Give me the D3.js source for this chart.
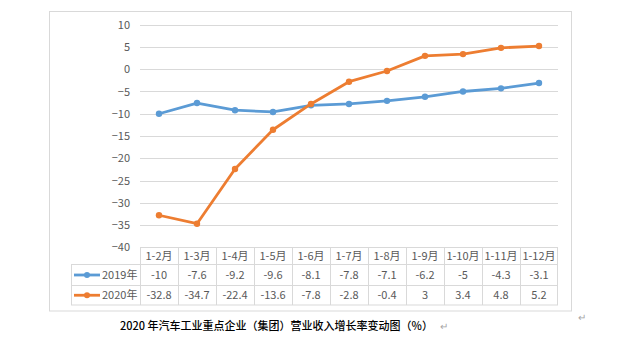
<!DOCTYPE html>
<html><head><meta charset="utf-8">
<script src="https://cdn.jsdelivr.net/npm/d3@7"></script>
<style>body{margin:0;background:#fff}svg{display:block}</style>
</head><body>
<svg id="c" width="640" height="346"></svg>
<script>
const categories = ["1-2月","1-3月","1-4月","1-5月","1-6月","1-7月","1-8月","1-9月","1-10月","1-11月","1-12月"];
const series2019 = [-10,-7.6,-9.2,-9.6,-8.1,-7.8,-7.1,-6.2,-5,-4.3,-3.1];
const series2020 = [-32.8,-34.7,-22.4,-13.6,-7.8,-2.8,-0.4,3,3.4,4.8,5.2];
const seriesNames = ["2019年","2020年"];
const yTicks = [10,5,0,-5,-10,-15,-20,-25,-30,-35,-40];
const title = "2020 年汽车工业重点企业（集团）营业收入增长率变动图（%）";

const colors = ["#5B9BD5","#ED7D31"];
const font = "'Noto Sans CJK SC','Microsoft YaHei',sans-serif";
const svg = d3.select("#c");

svg.append("rect").attr("x",49.5).attr("y",11.5).attr("width",522).attr("height",299.5)
  .attr("fill","none").attr("stroke","#d9d9d9").attr("stroke-width",1);

const x = d3.scaleBand().domain(categories).range([140,558]);
const y = d3.scaleLinear().domain([-40,10]).range([247.3,24.7]);

svg.append("g").selectAll("line").data(yTicks).join("line")
  .attr("x1",140).attr("x2",558)
  .attr("y1",d=>Math.round(y(d))+0.5).attr("y2",d=>Math.round(y(d))+0.5)
  .attr("stroke","#d9d9d9").attr("stroke-width",1);

const yAxis = d3.axisLeft(y).tickValues(yTicks).tickSize(0).tickPadding(10).tickFormat(d3.format("d"));
const ya = svg.append("g").attr("transform","translate(140,0)").call(yAxis);
ya.select(".domain").remove();
ya.selectAll("text").attr("fill","#595959").style("font-family",font).style("font-size","11px");

const data = [series2019, series2020];
const line = d3.line().x((d,i)=>x(categories[i])+x.bandwidth()/2).y(d=>y(d));
data.forEach((s,k)=>{
  svg.append("path").datum(s).attr("d",line).attr("fill","none")
    .attr("stroke",colors[k]).attr("stroke-width",2.8).attr("stroke-linejoin","round");
  svg.append("g").selectAll("circle").data(s).join("circle")
    .attr("cx",(d,i)=>x(categories[i])+x.bandwidth()/2).attr("cy",d=>y(d)).attr("r",3.2)
    .attr("fill",colors[k]);
});

const rowTop = [247.5,264.5,285.5,305];
const legLeft = 71;
const g = svg.append("g");
const bc = "#d9d9d9";
g.append("line").attr("x1",140).attr("x2",558).attr("y1",rowTop[0]).attr("y2",rowTop[0]).attr("stroke",bc);
[1,2,3].forEach(r=>g.append("line").attr("x1",legLeft).attr("x2",558).attr("y1",rowTop[r]).attr("y2",rowTop[r]).attr("stroke",bc));
g.append("line").attr("x1",legLeft+0.5).attr("x2",legLeft+0.5).attr("y1",rowTop[1]).attr("y2",rowTop[3]).attr("stroke",bc);
categories.forEach(c=>{
  const xx = Math.round(x(c))+0.5;
  g.append("line").attr("x1",xx).attr("x2",xx).attr("y1",rowTop[0]).attr("y2",rowTop[3]).attr("stroke",bc);
});
g.append("line").attr("x1",557.5).attr("x2",557.5).attr("y1",rowTop[0]).attr("y2",rowTop[3]).attr("stroke",bc);

g.selectAll("text.h").data(categories).join("text").attr("class","h")
  .attr("x",d=>x(d)+x.bandwidth()/2).attr("y",(rowTop[0]+rowTop[1])/2+4)
  .attr("text-anchor","middle").attr("fill","#595959")
  .style("font-family",font).style("font-size","11px").text(d=>d);

data.forEach((s,k)=>{
  const cy = (rowTop[k+1]+rowTop[k+2])/2;
  g.selectAll("text.v"+k).data(s).join("text").attr("class","v"+k)
    .attr("x",(d,i)=>x(categories[i])+x.bandwidth()/2).attr("y",cy+4)
    .attr("text-anchor","middle").attr("fill","#595959")
    .style("font-family",font).style("font-size","11px").text(d=>d);
  g.append("line").attr("x1",74).attr("x2",100).attr("y1",cy).attr("y2",cy)
    .attr("stroke",colors[k]).attr("stroke-width",2.8);
  g.append("circle").attr("cx",87).attr("cy",cy).attr("r",3).attr("fill",colors[k]);
  g.append("text").attr("x",102).attr("y",cy+4).attr("fill","#595959")
    .style("font-family",font).style("font-size","11px").text(seriesNames[k]);
});

// title: fit natural width to ~313px
const t = svg.append("text").attr("x",120).attr("y",330).attr("fill","#000")
  .style("font-family",font).style("font-size","12px").style("font-weight","500").text(title);
const w = t.node().getComputedTextLength();
t.style("font-size",(12*313/w).toFixed(2)+"px");
svg.append("text").attr("x",440).attr("y",330).attr("fill","#a6a6a6")
  .style("font-family",font).style("font-size","10px").text("↵");
svg.append("text").attr("x",578).attr("y",321).attr("fill","#a6a6a6")
  .style("font-family",font).style("font-size","10px").text("↵");
</script>
</body></html>
